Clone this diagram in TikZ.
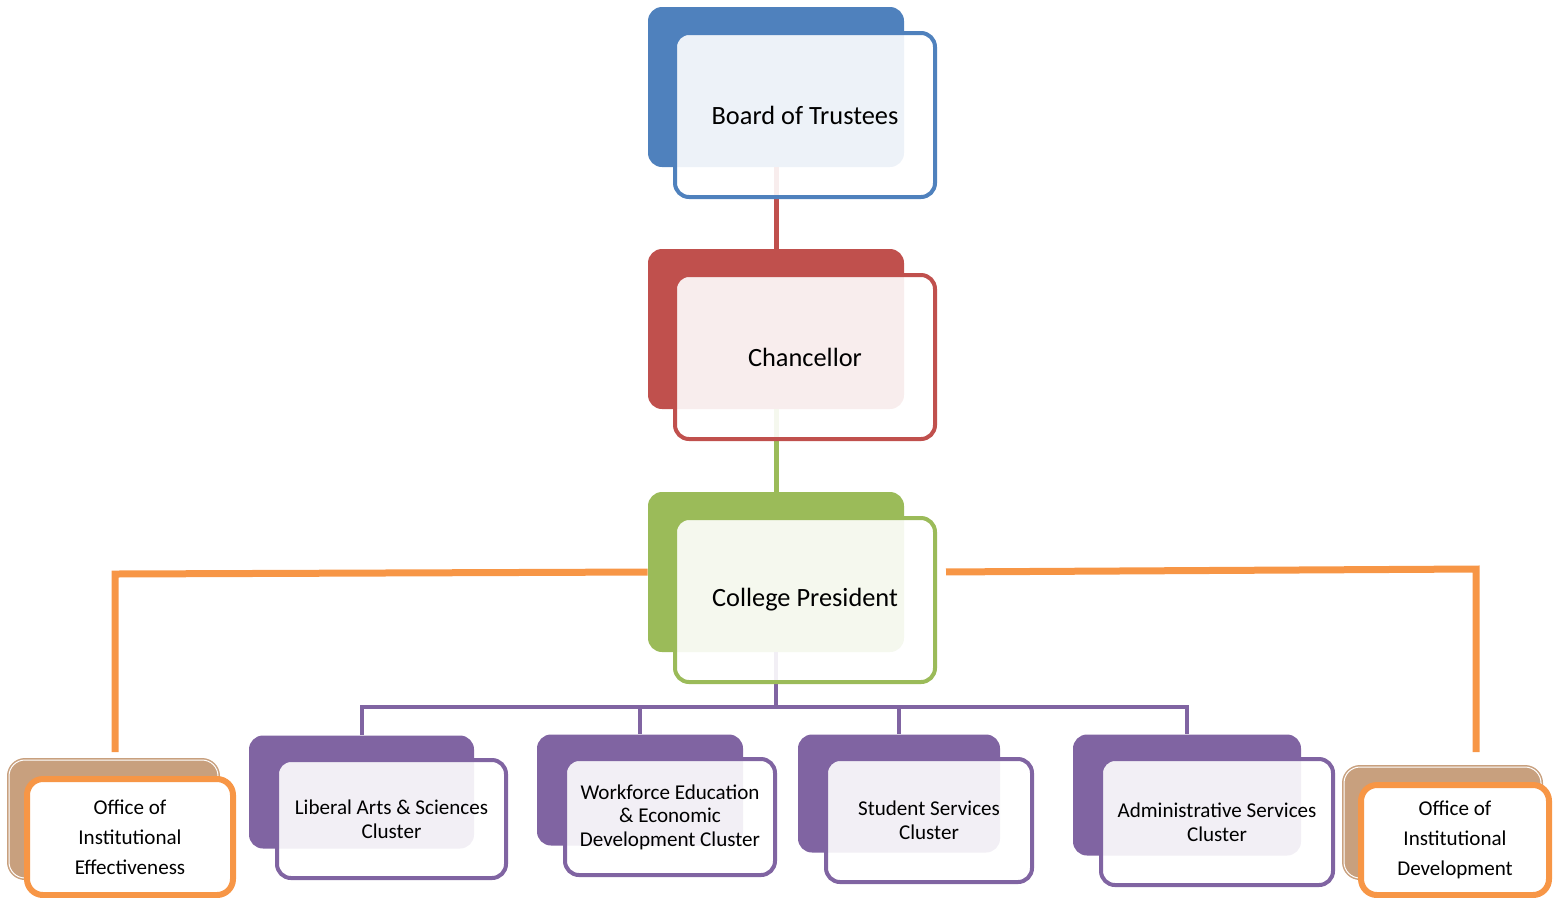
\documentclass[tikz,border=0pt]{standalone}
\usepackage{fontspec}
\setmainfont{Carlito}
\usepackage{tikz}
\newlength\pxu
\setlength\pxu{0.02cm}
\definecolor{trusteeblue}{HTML}{4F81BD}
\definecolor{chancred}{HTML}{C0504D}
\definecolor{presgreen}{HTML}{9BBB59}
\definecolor{clusterpurple}{HTML}{8064A2}
\definecolor{officeorange}{HTML}{F79646}
\definecolor{officetan}{HTML}{C8A07E}
\tikzset{
  backbox/.style={
    rectangle,
    rounded corners=14\pxu,
    fill=#1,
    inner sep=0pt},
  frontbox/.style={
    rectangle,
    rounded corners=14\pxu,
    draw=#1, line width=4\pxu,
    fill=white, fill opacity=0.9, text opacity=1,
    inner sep=0pt,
    align=center},
  officeback/.style={
    rectangle,
    rounded corners=16\pxu,
    fill=officetan,
    draw=officetan, line width=1.5\pxu,
    double=white, double distance=1\pxu,
    inner sep=0pt},
  officefront/.style={
    rectangle,
    rounded corners=16\pxu,
    draw=officeorange, line width=6\pxu,
    fill=white,
    inner sep=0pt,
    align=center,
    font=\fontsize{12}{17}\selectfont},
  link/.style={draw=#1, line width=5\pxu},
  purpleline/.style={draw=clusterpurple, line width=4\pxu},
  orangeline/.style={draw=officeorange, line width=7\pxu},
}

\begin{document}
\begin{tikzpicture}[x=0.02cm, y=-0.02cm]
\useasboundingbox (0,0) rectangle (1554,897);
\clip (0,0) rectangle (1554,897);
% back plates
\foreach \nm/\y/\clr in {board/115/trusteeblue, chan/357/chancred, pres/600/presgreen}{
    \node[backbox=\clr, minimum width=256\pxu, minimum height=160\pxu] (\nm back) at (776,\y-28) {};
    }
\foreach \nm/\x/\y/\w/\h/\txt in {lib/391.5/819/229/118/{Liberal Arts \& Sciences\\Cluster},
    wfd/670/817/210/116/{Workforce Education\\\& Economic\\Development Cluster},
    ssv/929/820.5/206/123/{Student Services\\Cluster},
    adm/1217/822/232/126/{Administrative Services\\Cluster}}{
    \node[backbox=clusterpurple, minimum width={(\w-4)*0.02cm}, minimum height={(\h-5)*0.02cm}] (\nm back) at (\x-30,\y-27) {};
    }
\node[officeback, minimum width=209\pxu, minimum height=118\pxu] (oieback) at (113.5,819) {};
\node[officeback, minimum width=197\pxu, minimum height=111\pxu] (oidback) at (1442.5,822.5) {};

% connectors
\draw[link=chancred] (boardback.south) -- (chanback.north);
\draw[link=presgreen] (chanback.south) -- (presback.north);
\coordinate (hub) at (776,707);
\draw[purpleline] (presback.south) -- (hub);
\foreach \nm in {lib,wfd,ssv,adm}
    \draw[purpleline] (hub) -| (\nm back.north);
\coordinate (oiecorner) at (115,574);
\coordinate (oietop) at (115,752);
\coordinate (oidcorner) at (1476,569);
\coordinate (oidtop) at (1476,752);
\draw[orangeline] (presback.west) -- (oiecorner) -- (oietop);

% front boxes
\foreach \nm/\y/\clr/\txt in {board/115/trusteeblue/Board of Trustees, chan/357/chancred/Chancellor, pres/600/presgreen/College President}{
    \node[frontbox=\clr, minimum width=260\pxu, minimum height=164\pxu,
          font=\fontsize{15}{18}\selectfont] (\nm) at (805,\y) {\txt};
    }
\draw[orangeline, shorten <=9\pxu] (pres.east |- presback.east) -- (oidcorner) -- (oidtop);
\foreach \nm/\x/\y/\w/\h/\txt in {lib/391.5/819/229/118/{Liberal Arts \& Sciences\\Cluster},
    wfd/670/817/210/116/{Workforce Education\\\& Economic\\Development Cluster},
    ssv/929/820.5/206/123/{Student Services\\Cluster},
    adm/1217/822/232/126/{Administrative Services\\Cluster}}{
    \node[frontbox=clusterpurple, minimum width=\w\pxu, minimum height=\h\pxu,
          font=\fontsize{12}{13.4}\selectfont] (\nm) at (\x,\y) {\txt};
    }
\node[officefront, minimum width=206\pxu, minimum height=116\pxu] (oie) at (130,837) {Office of\\Institutional\\Effectiveness};
\node[officefront, minimum width=188\pxu, minimum height=110\pxu] (oid) at (1455,840) {Office of\\Institutional\\Development};
\end{tikzpicture}
\end{document}
